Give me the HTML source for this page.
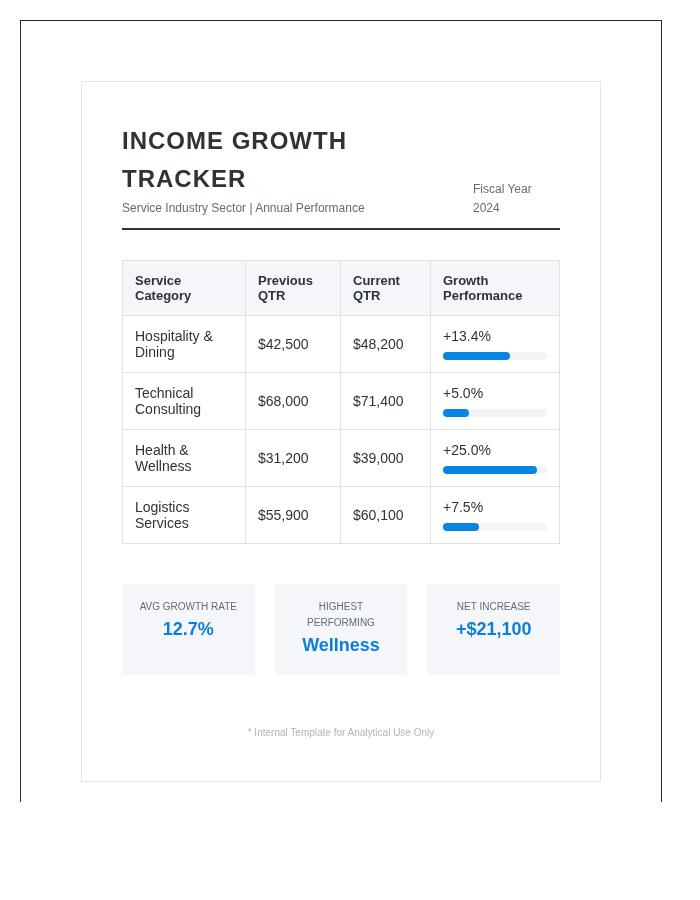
<!DOCTYPE html>
<html>
<head>
<meta charset="utf-8">
<style>
*{box-sizing:border-box;}
html,body{margin:0;padding:0;background:#fff;}
body{width:700px;height:900px;overflow:hidden;font-family:"Liberation Sans",sans-serif;color:#2d3436;position:relative;}
.frame{will-change:transform;position:absolute;left:20px;top:20px;width:642px;height:782px;border:1px solid #2a2a2a;border-bottom:none;}
.card{position:absolute;left:60px;top:60px;width:520px;height:701px;border:1px solid #e4e6e7;padding:40px;background:#fff;}
.hdr{display:flex;justify-content:space-between;align-items:flex-end;border-bottom:2px solid #2d3436;padding-bottom:10px;margin-bottom:30px;height:108px;}
h1{margin:0;font-size:24px;line-height:38px;letter-spacing:1px;font-weight:bold;color:#2d3436;width:300px;position:relative;top:-1px;}
.sub{font-size:12px;line-height:19px;color:#636e72;}
.fy{font-size:12px;line-height:19px;color:#636e72;width:87px;}
table{border-collapse:collapse;width:438px;font-size:14px;line-height:16px;table-layout:fixed;}
th,td{border:1px solid #e0e3e5;padding:12px;text-align:left;vertical-align:middle;color:#2d3436;}
th{background:#f5f6fa;font-weight:bold;height:55px;font-size:13px;line-height:15px;}
td{height:57px;}
.track{height:8px;border-radius:4px;background:#f2f4f8;margin-top:8px;width:104px;}
.fill{height:8px;border-radius:4px;background:#0984e3;}
.stats{display:flex;gap:20px;margin-top:40px;}
.stat{flex:1 1 0;min-width:0;height:91px;background:#f5f6fa;text-align:center;padding:15px 10px;}
.lbl{font-size:10px;line-height:16px;color:#636e72;text-transform:uppercase;}
.val{font-size:18px;line-height:29px;font-weight:bold;color:#0a7fdc;}
.foot{position:absolute;left:0;right:0;top:643px;text-align:center;font-size:10px;line-height:16px;color:#aab7bd;}
</style>
</head>
<body>
<div class="frame">
<div class="card">
  <div class="hdr">
    <div>
      <h1>INCOME GROWTH TRACKER</h1>
      <div class="sub">Service Industry Sector | Annual Performance</div>
    </div>
    <div class="fy">Fiscal Year<br>2024</div>
  </div>
  <table>
    <colgroup><col style="width:123px"><col style="width:95px"><col style="width:90px"><col style="width:129px"></colgroup>
    <tr><th>Service Category</th><th>Previous QTR</th><th>Current QTR</th><th>Growth Performance</th></tr>
    <tr><td>Hospitality &amp; Dining</td><td>$42,500</td><td>$48,200</td><td>+13.4%<div class="track"><div class="fill" style="width:67px"></div></div></td></tr>
    <tr><td>Technical Consulting</td><td>$68,000</td><td>$71,400</td><td>+5.0%<div class="track"><div class="fill" style="width:26px"></div></div></td></tr>
    <tr><td>Health &amp; Wellness</td><td>$31,200</td><td>$39,000</td><td>+25.0%<div class="track"><div class="fill" style="width:94px"></div></div></td></tr>
    <tr><td>Logistics Services</td><td>$55,900</td><td>$60,100</td><td>+7.5%<div class="track"><div class="fill" style="width:36px"></div></div></td></tr>
  </table>
  <div class="stats">
    <div class="stat"><div class="lbl">Avg Growth Rate</div><div class="val">12.7%</div></div>
    <div class="stat"><div class="lbl">Highest Performing</div><div class="val">Wellness</div></div>
    <div class="stat"><div class="lbl">Net Increase</div><div class="val">+$21,100</div></div>
  </div>
  <div class="foot">* Internal Template for Analytical Use Only</div>
</div>
</div>
</body>
</html>
